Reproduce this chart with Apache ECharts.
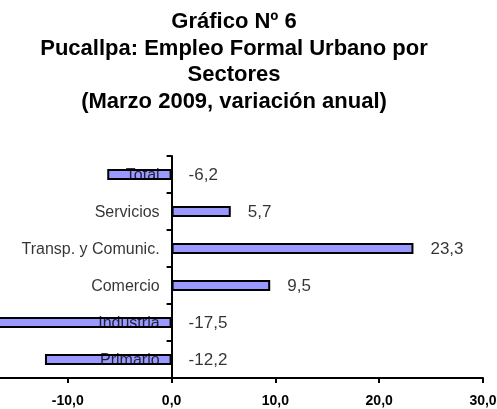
<!DOCTYPE html>
<html>
<head>
<meta charset="utf-8">
<script src="https://cdn.jsdelivr.net/npm/echarts@6/dist/echarts.min.js"></script>
<style>
html, body { margin: 0; padding: 0; background: #fff; }
#main { width: 497px; height: 409px; }
</style>
</head>
<body>
<div id="main"></div>
<script>
// sectores (de abajo hacia arriba) y variacion anual
var sectores = ['Primario', 'Industria', 'Comercio', 'Transp. y Comunic.', 'Servicios', 'Total'];
var variacion = [-12.2, -17.5, 9.5, 23.3, 5.7, -6.2];
var ejeTicks = [-20, -10, 0, 10, 20, 30];

var fuente = '"Liberation Sans", Arial, sans-serif';

function coma(v) {
	return v.toFixed(1).replace('.', ',');
}

// etiquetas de valor: a la derecha del eje para negativos, al final de la barra para positivos
var etiquetas = [];
// nombres de sector junto al eje cero (como en Excel)
var nombres = [];
for(var i = 0; i < variacion.length; i++) {
	etiquetas.push({ value: [Math.max(variacion[i], 0), i], real: variacion[i] });
	nombres.push({ value: [0, i], nombre: sectores[i] });
}

var chart = echarts.init(document.getElementById('main'));
chart.setOption({
	animation: false,
	backgroundColor: '#fff',
	title: {
		text: 'Gráfico Nº 6\nPucallpa: Empleo Formal Urbano por\nSectores\n(Marzo 2009, variación anual)',
		left: 229,
		top: 4,
		textAlign: 'center',
		textStyle: {
			fontFamily: fuente,
			fontWeight: 'bold',
			fontSize: 22,
			lineHeight: 26.5,
			color: '#000'
		}
	},
	grid: {
		left: -36,
		right: 14,
		top: 156,
		bottom: 31,
		outerBoundsMode: 'none',
		containLabel: false
	},
	xAxis: {
		type: 'value',
		min: ejeTicks[0],
		max: ejeTicks[ejeTicks.length - 1],
		interval: 10,
		splitLine: { show: false },
		axisLine: { show: true, lineStyle: { color: '#000', width: 2 } },
		axisTick: { show: true, length: 5, lineStyle: { color: '#000', width: 2 } },
		axisLabel: {
			margin: 16,
			fontFamily: fuente,
			fontWeight: 'bold',
			fontSize: 14,
			color: '#000',
			formatter: function(v) { return coma(v); }
		}
	},
	yAxis: {
		type: 'category',
		data: sectores,
		axisLine: { show: true, onZero: true, lineStyle: { color: '#000', width: 2 } },
		axisTick: { show: true, length: 5, lineStyle: { color: '#000', width: 2 } },
		axisLabel: { show: false },
		z: 5
	},
	series: [{
		type: 'bar',
		data: variacion,
		barWidth: 11,
		itemStyle: {
			color: '#9999FF',
			borderColor: '#000',
			borderWidth: 2
		},
		z: 2
	}, {
		type: 'scatter',
		data: nombres,
		symbolSize: 0,
		itemStyle: { color: 'rgba(0,0,0,0)' },
		label: {
			show: true,
			position: 'left',
			distance: 12,
			offset: [0, 1],
			fontFamily: fuente,
			fontSize: 16,
			color: '#000',
			formatter: function(p) { return p.data.nombre; }
		},
		z: 6
	}, {
		type: 'scatter',
		data: etiquetas,
		symbolSize: 0,
		itemStyle: { color: 'rgba(0,0,0,0)' },
		label: {
			show: true,
			position: 'right',
			distance: 17,
			offset: [0, 1],
			fontFamily: fuente,
			fontSize: 17,
			color: '#000',
			formatter: function(p) { return coma(p.data.real); }
		},
		z: 6
	}]
});
</script>
</body>
</html>
